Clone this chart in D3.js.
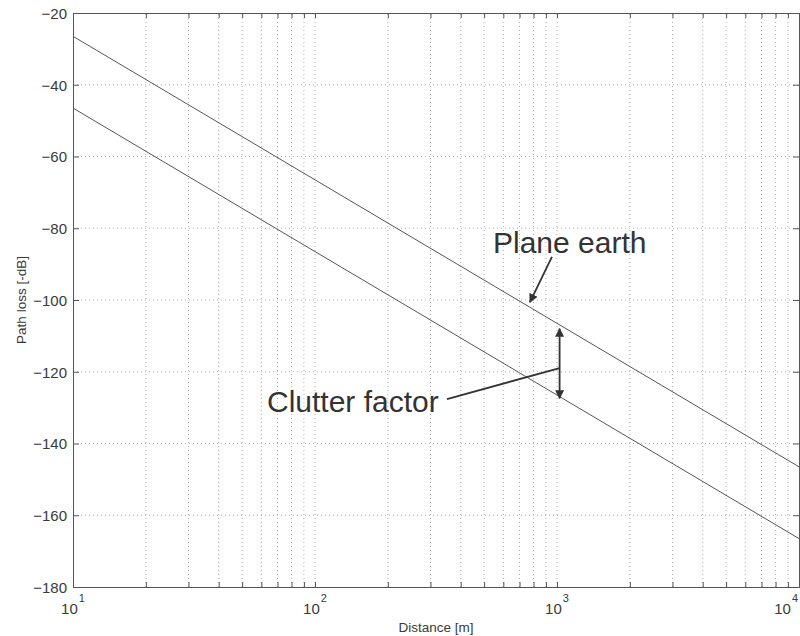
<!DOCTYPE html>
<html>
<head>
<meta charset="utf-8">
<script src="https://cdn.jsdelivr.net/npm/d3@7"></script>
<style>
  body { margin: 0; background: #fff; }
  svg { display: block; font-family: "Liberation Sans", Arial, sans-serif; }
</style>
</head>
<body>
<script>
// path loss curves (straight lines on log-x)
const distances = [10, 100, 1000, 10000];
const planeEarth = [-26.5, -66.5, -106.5, -146.5];
const withClutter = [-46.5, -86.5, -126.5, -166.5];

const yTicks = [-180, -160, -140, -120, -100, -80, -60, -40, -20];
const xDecades = [10, 100, 1000, 10000];
const xExps = ["1", "2", "3", "4"];

// set the dimensions and margins of the graph
const W = 800, H = 636;
const margin = { top: 13, right: 1, bottom: 49, left: 73 };

const svg = d3.select("body").append("svg")
    .attr("width", W)
    .attr("height", H);

const x = d3.scaleLog().domain([10, 10000]).range([margin.left, W - margin.right]);
const y = d3.scaleLinear().domain([-180, -20]).range([H - margin.bottom, margin.top]);

const ink = "#3a3a3a";

// minor positions for the log grid (1..9 in every decade + last decade)
const minor = [];
xDecades.slice(0, 3).forEach(d => {
    for (let k = 1; k <= 9; k++) minor.push(d * k);
});
minor.push(10000);

// grid
const grid = svg.append("g").attr("stroke", "#9a9a9a").attr("stroke-width", 0.8).attr("stroke-dasharray", "1,3");
grid.selectAll(".vg")
    .data(minor.filter(d => d > 10 && d < 10000))
    .enter().append("line")
    .attr("x1", d => x(d)).attr("x2", d => x(d))
    .attr("y1", y(-180)).attr("y2", y(-20));
grid.selectAll(".hg")
    .data(yTicks.filter(d => d > -180 && d < -20))
    .enter().append("line")
    .attr("x1", x(10)).attr("x2", x(10000))
    .attr("y1", d => y(d)).attr("y2", d => y(d));

// axes (ticks inward, matlab style)
const axB = svg.append("g")
    .attr("transform", "translate(0," + y(-180) + ")")
    .call(d3.axisBottom(x).tickValues(minor).tickSize(-5).tickFormat(""));
const axT = svg.append("g")
    .attr("transform", "translate(0," + y(-20) + ")")
    .call(d3.axisTop(x).tickValues(minor).tickSize(-5).tickFormat(""));
const axL = svg.append("g")
    .attr("transform", "translate(" + x(10) + ",0)")
    .call(d3.axisLeft(y).tickValues(yTicks).tickSize(-6).tickPadding(6).tickFormat(d3.format("d")));
const axR = svg.append("g")
    .attr("transform", "translate(" + x(10000) + ",0)")
    .call(d3.axisRight(y).tickValues(yTicks).tickSize(-6).tickFormat(""));

[axB, axT, axL, axR].forEach(a => {
    a.selectAll("path, line").attr("stroke", "#555");
    a.selectAll("text").attr("fill", ink).attr("font-size", 15)
        .attr("font-family", "Liberation Sans, Arial, sans-serif");
});
axL.selectAll("text").attr("dy", "0.36em");

// x tick labels: 10 with superscript exponent
// (the last one is pulled inside so it is not clipped by the page edge)
const xl = svg.append("g").attr("fill", ink).attr("font-size", 15);
xDecades.forEach((d, i) => {
    const last = i === xDecades.length - 1;
    const t = xl.append("text")
        .attr("x", last ? W - 2 : x(d))
        .attr("y", 614)
        .attr("text-anchor", last ? "end" : "middle");
    t.append("tspan").text("10");
    t.append("tspan").attr("font-size", 11).attr("dy", -12).attr("dx", 1).text(xExps[i]);
});

// axis titles
svg.append("text")
    .attr("x", (x(10) + x(10000)) / 2)
    .attr("y", 632)
    .attr("text-anchor", "middle")
    .attr("font-size", 13.5)
    .attr("fill", ink)
    .text("Distance [m]");

svg.append("text")
    .attr("transform", "rotate(-90)")
    .attr("x", -(y(-20) + y(-180)) / 2)
    .attr("y", 26)
    .attr("text-anchor", "middle")
    .attr("font-size", 13.5)
    .attr("fill", ink)
    .text("Path loss [-dB]");

// the two curves
const line = d3.line()
    .x((d, i) => x(distances[i]))
    .y(d => y(d));

[planeEarth, withClutter].forEach(s => {
    svg.append("path")
        .datum(s)
        .attr("d", line)
        .attr("fill", "none")
        .attr("stroke", "#555")
        .attr("stroke-width", 1);
});

// annotations
const defs = svg.append("defs");
defs.append("marker")
    .attr("id", "head")
    .attr("viewBox", "0 0 10 10")
    .attr("refX", 9).attr("refY", 5)
    .attr("markerWidth", 5).attr("markerHeight", 5)
    .attr("markerUnits", "strokeWidth")
    .attr("orient", "auto-start-reverse")
    .append("path")
    .attr("d", "M0,0 L10,5 L0,10 z")
    .attr("fill", "#333");

svg.append("text")
    .attr("x", 493).attr("y", 253)
    .attr("font-size", 30)
    .attr("fill", "#333")
    .text("Plane earth");

svg.append("line")
    .attr("x1", x(953)).attr("y1", y(-88))
    .attr("x2", x(773)).attr("y2", y(-100.6))
    .attr("stroke", "#333").attr("stroke-width", 1.8)
    .attr("marker-end", "url(#head)");

svg.append("text")
    .attr("x", 267).attr("y", 412)
    .attr("font-size", 30)
    .attr("fill", "#333")
    .text("Clutter factor");

svg.append("line")
    .attr("x1", x(351)).attr("y1", y(-127.6))
    .attr("x2", x(1025)).attr("y2", y(-119))
    .attr("stroke", "#333").attr("stroke-width", 1.8);

svg.append("line")
    .attr("x1", x(1025)).attr("y1", y(-108))
    .attr("x2", x(1025)).attr("y2", y(-127.4))
    .attr("stroke", "#333").attr("stroke-width", 1.8)
    .attr("marker-start", "url(#head)")
    .attr("marker-end", "url(#head)");
</script>
</body>
</html>
